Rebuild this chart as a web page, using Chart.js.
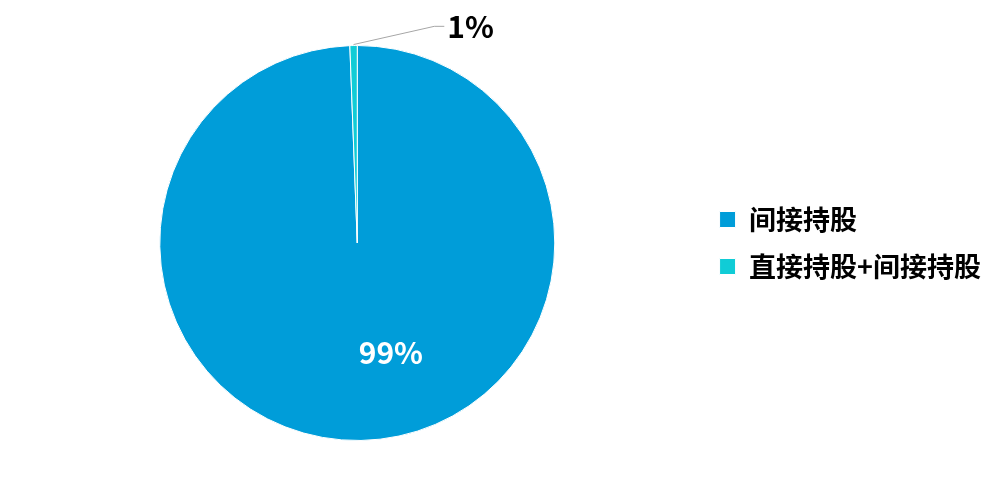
<!DOCTYPE html>
<html><head><meta charset="utf-8">
<script src="https://cdn.jsdelivr.net/npm/chart.js@4.4.0/dist/chart.umd.min.js"></script>
<style>html,body{margin:0;padding:0;background:#fff;}#wrap{width:1001px;height:487px;}</style>
</head><body><div id="wrap"><canvas id="c" width="1001" height="487"></canvas></div>
<script>
const categories = ['间接持股', '直接持股+间接持股'];
const values = [99.4, 0.6];
const colors = ['#009DD9', '#10CCD6'];
const FONT = '"Noto Sans CJK SC","Noto Sans",sans-serif';

const labelPlugin = {
  id: 'pieLabels',
  afterDatasetsDraw(chart) {
    const ctx = chart.ctx;
    const meta = chart.getDatasetMeta(0);
    const total = values.reduce((a, b) => a + b, 0);
    ctx.save();
    meta.data.forEach((arc, i) => {
      const p = arc.getProps(['x', 'y', 'startAngle', 'endAngle', 'outerRadius'], true);
      const txt = Math.round(values[i] / total * 100) + '%';
      const mid = (p.startAngle + p.endAngle) / 2;
      if (i === 0) {
        ctx.fillStyle = '#FFFFFF';
        ctx.font = 'bold 30px ' + FONT;
        ctx.textAlign = 'center';
        ctx.textBaseline = 'middle';
        ctx.fillText(txt, p.x + p.outerRadius * 0.17, p.y + p.outerRadius * 0.555);
      } else {
        const sx = p.x + Math.cos(mid) * p.outerRadius;
        const sy = p.y + Math.sin(mid) * p.outerRadius;
        const ex = p.x + p.outerRadius * 0.39;
        const ey = p.y - p.outerRadius * 1.097;
        ctx.strokeStyle = '#A6A6A6';
        ctx.lineWidth = 1;
        ctx.beginPath();
        ctx.moveTo(sx, sy - 1);
        ctx.lineTo(ex, ey);
        ctx.lineTo(ex + 10, ey);
        ctx.stroke();
        ctx.fillStyle = '#000000';
        ctx.font = 'bold 30px ' + FONT;
        ctx.textAlign = 'left';
        ctx.textBaseline = 'middle';
        ctx.fillText(txt, ex + 13, ey);
      }
    });
    ctx.restore();
  }
};

new Chart(document.getElementById('c'), {
  type: 'pie',
  data: {
    labels: categories,
    datasets: [{
      data: values,
      backgroundColor: colors,
      borderColor: '#FFFFFF',
      borderWidth: 1
    }]
  },
  options: {
    responsive: false,
    animation: false,
    layout: { padding: { top: 45, bottom: 46, left: 15, right: 10 } },
    plugins: {
      tooltip: { enabled: false },
      legend: {
        position: 'right',
        align: 'center',
        labels: {
          font: { family: FONT, size: 27, weight: 'bold' },
          color: '#000000',
          boxWidth: 16,
          boxHeight: 16,
          padding: 20
        }
      }
    }
  },
  plugins: [labelPlugin]
});
</script>
</body></html>
